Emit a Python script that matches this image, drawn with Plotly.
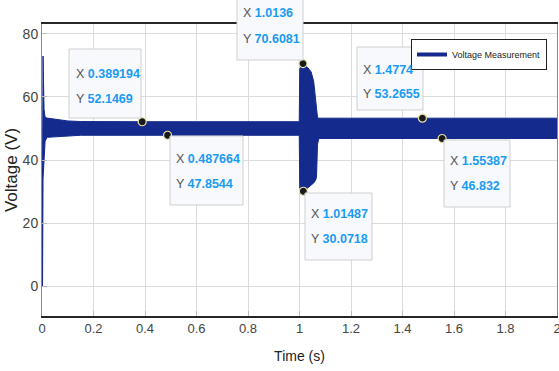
import plotly.graph_objects as go

# ---- data ----
# envelope of the oscillating voltage measurement
t_env = [0, 0.002, 0.004, 0.008, 0.012, 0.02, 0.05, 0.1, 0.15, 0.2, 0.4, 0.6, 0.8, 0.999,
         1.001, 1.0136, 1.03, 1.045, 1.055, 1.062, 1.066, 1.07, 1.075, 1.2, 1.5, 2.0]
v_upper = [0, 73, 73, 56, 53.6, 53.3, 53.0, 52.4, 52.2, 52.15, 52.15, 52.15, 52.15, 52.15,
           69.0, 70.6, 69.5, 68.0, 65.0, 60.0, 56.0, 53.5, 53.27, 53.27, 53.27, 53.27]
v_lower = [0, 0, 34, 41, 46, 47.2, 47.4, 47.7, 47.85, 47.85, 47.85, 47.85, 47.85, 47.85,
           31.0, 30.07, 31.0, 32.0, 32.7, 33.5, 34.5, 45.0, 46.83, 46.83, 46.83, 46.83]

# data tips
tip_x = [0.389194, 0.487664, 1.0136, 1.01487, 1.4774, 1.55387]
tip_y = [52.1469, 47.8544, 70.6081, 30.0718, 53.2655, 46.832]
tip_xs = ["0.389194", "0.487664", "1.0136", "1.01487", "1.4774", "1.55387"]
tip_ys = ["52.1469", "47.8544", "70.6081", "30.0718", "53.2655", "46.832"]

x_ticks = [0, 0.2, 0.4, 0.6, 0.8, 1, 1.2, 1.4, 1.6, 1.8, 2]
x_tick_text = ["0", "0.2", "0.4", "0.6", "0.8", "1", "1.2", "1.4", "1.6", "1.8", "2"]
y_ticks = [0, 20, 40, 60, 80]

series_name = "Voltage Measurement"

# ---- layout geometry (pixels) ----
W, H = 559, 371
ML, MR, MT, MB = 42, 2, 24, 55
PW, PH = W - ML - MR, H - MT - MB

def px(xp):
    return (xp - ML) / PW

def py(yp):
    return (MT + PH - yp) / PH

# datatip box pixel layout: (left, top, right, bottom, text_x, xline_y, yline_y)
tip_boxes = [
    (69, 49, 141, 118, 74, 74, 99),
    (170, 136, 243, 205, 174, 159, 184),
    (237, -12, 303, 60, 241, 13, 39),
    (305, 193, 372, 260, 309, 214, 239),
    (357, 47, 423, 110, 361, 70, 94),
    (444, 140, 510, 207, 448, 161, 186),
]

BLUE = "#142a8c"
FONT = "Liberation Sans, Arial, sans-serif"

fig = go.Figure()

fig.add_trace(go.Scatter(x=t_env, y=v_lower, mode="lines",
                         line=dict(color=BLUE, width=1), showlegend=False, hoverinfo="skip"))
fig.add_trace(go.Scatter(x=t_env, y=v_upper, mode="lines", fill="tonexty",
                         fillcolor=BLUE, line=dict(color=BLUE, width=1),
                         showlegend=False, hoverinfo="skip"))
# legend entry
fig.add_trace(go.Scatter(x=[None], y=[None], mode="lines", name=series_name,
                         line=dict(color=BLUE, width=4)))

shapes = []
annotations = []
for i, (l, t, r, b, tx, yx, yy) in enumerate(tip_boxes):
    shapes.append(dict(type="rect", xref="paper", yref="paper",
                       x0=px(l), x1=px(r), y0=py(b), y1=py(t),
                       fillcolor="#f8f9fd", line=dict(color="#cfcfcf", width=1),
                       layer="above"))
    annotations.append(dict(xref="paper", yref="paper", x=px(tx), y=py(yx),
                            xanchor="left", yanchor="middle", showarrow=False,
                            text="X <span style='color:#1a9bf2'><b>%s</b></span>" % tip_xs[i],
                            font=dict(family=FONT, size=12.5, color="#555555")))
    annotations.append(dict(xref="paper", yref="paper", x=px(tx), y=py(yy),
                            xanchor="left", yanchor="middle", showarrow=False,
                            text="Y <span style='color:#1a9bf2'><b>%s</b></span>" % tip_ys[i],
                            font=dict(family=FONT, size=12.5, color="#555555")))

fig.add_trace(go.Scatter(x=tip_x, y=tip_y, mode="markers", showlegend=False,
                         marker=dict(color="#1a1a1a", size=8,
                                     line=dict(color="#e6e3a8", width=1.2)),
                         hoverinfo="skip"))

fig.update_layout(
    width=W, height=H,
    margin=dict(l=ML, r=MR, t=MT, b=MB, autoexpand=False),
    paper_bgcolor="white", plot_bgcolor="white",
    shapes=shapes, annotations=annotations,
    legend=dict(x=px(547), y=py(39), xanchor="right", yanchor="top",
                bgcolor="white", bordercolor="#222222", borderwidth=1,
                itemwidth=30, tracegroupgap=0,
                font=dict(family=FONT, size=9, color="#222222")),
    xaxis=dict(range=[0, 2], tickvals=x_ticks, ticktext=x_tick_text,
               automargin=False,
               showgrid=True, gridcolor="#dcdcdc", gridwidth=1, zeroline=False,
               showline=True, linecolor="#262626", linewidth=1.5, mirror=True,
               ticks="inside", ticklen=5, tickcolor="#bbbbbb",
               ticklabeloverflow="allow",
               tickfont=dict(family=FONT, size=13, color="#444444"),
               title=dict(text="Time (s)", standoff=16,
                          font=dict(family=FONT, size=14, color="#222222"))),
    yaxis=dict(range=[-9.52, 83.17], tickvals=y_ticks,
               automargin=False,
               showgrid=True, gridcolor="#dcdcdc", gridwidth=1, zeroline=False,
               showline=True, linecolor="#8a8a8a", linewidth=1, mirror=True,
               ticks="inside", ticklen=5, tickcolor="#bbbbbb",
               tickfont=dict(family=FONT, size=14, color="#444444"),
               title=dict(text="Voltage (V)", standoff=0,
                          font=dict(family=FONT, size=17, color="#222222"))),
)

fig.write_html("out.html")
